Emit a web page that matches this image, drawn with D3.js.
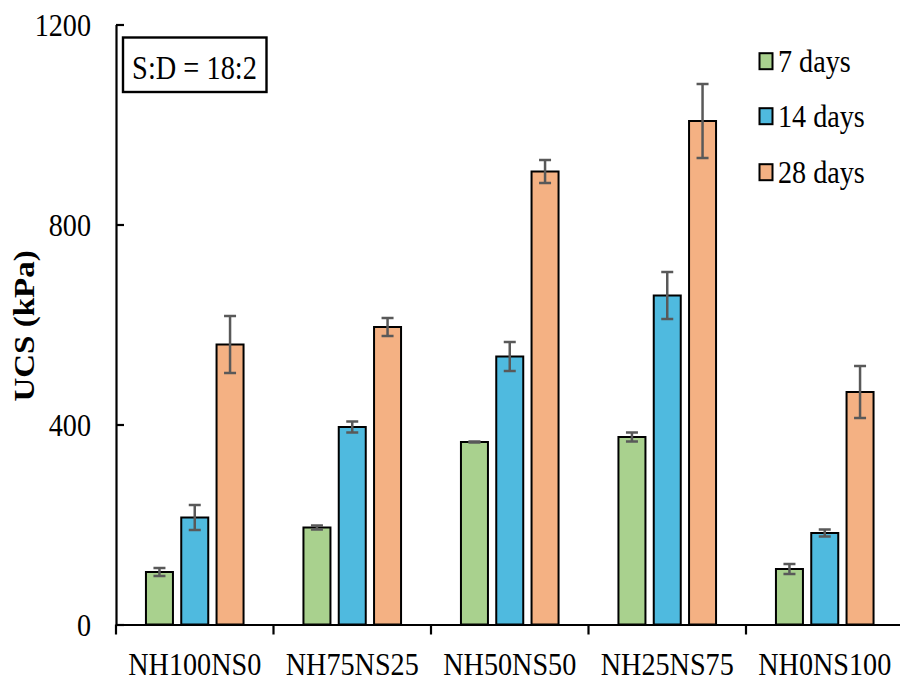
<!DOCTYPE html>
<html><head><meta charset="utf-8">
<script src="https://cdn.jsdelivr.net/npm/d3@7"></script>
<style>body{margin:0;background:#fff}svg{display:block}
svg text{font-family:"Liberation Serif","Tinos","Times New Roman",Times,"DejaVu Serif",serif;fill:#000}</style>
</head><body>
<svg id="c" width="900" height="684"></svg>
<script>
const categories = ["NH100NS0","NH75NS25","NH50NS50","NH25NS75","NH0NS100"];
const seriesNames = ["7 days","14 days","28 days"];
const days7  = [105, 194, 365, 375, 111];
const days14 = [214, 395, 536, 658, 183];
const days28 = [560, 595, 906, 1007, 465];
const err7  = [8, 4, 1, 9, 10];
const err14 = [25, 11, 29, 47, 7];
const err28 = [57, 18, 23, 74, 52];
const yTicks = [0, 400, 800, 1200];
const colors = ["#A9D18E","#4FBADF","#F4B183"];

(function(){
const values = [days7, days14, days28];
const errs = [err7, err14, err28];
const svg = d3.select("#c");
const sx = 0.88;
const pLeft = 116, pBottom = 624.5, pTop = 24.5, band = 157.5;
const x = d3.scaleBand().domain(categories).range([pLeft, pLeft + band*categories.length]).paddingInner(0).paddingOuter(0);
const y = d3.scaleLinear().domain([0,1200]).range([pBottom, pTop]);
const bw = 27, step = 35.3;

// bars
seriesNames.forEach((s, si) => {
  const g = svg.append("g");
  categories.forEach((c, ci) => {
    const cx = x(c) + x.bandwidth()/2 + (si-1)*step;
    g.append("rect").attr("x", cx - bw/2).attr("y", y(values[si][ci]))
      .attr("width", bw).attr("height", y(0) - y(values[si][ci]))
      .attr("fill", colors[si]).attr("stroke", "#000").attr("stroke-width", 2);
  });
});
// error bars
seriesNames.forEach((s, si) => {
  categories.forEach((c, ci) => {
    const cx = x(c) + x.bandwidth()/2 + (si-1)*step;
    const v = values[si][ci], e = errs[si][ci];
    const g = svg.append("g").attr("stroke", "#595959").attr("stroke-width", 2.5);
    g.append("line").attr("x1", cx).attr("x2", cx).attr("y1", y(v+e)).attr("y2", y(v-e));
    g.append("line").attr("x1", cx-6).attr("x2", cx+6).attr("y1", y(v+e)).attr("y2", y(v+e));
    g.append("line").attr("x1", cx-6).attr("x2", cx+6).attr("y1", y(v-e)).attr("y2", y(v-e));
  });
});

// y axis
const ya = svg.append("g").attr("transform", `translate(${pLeft},0)`)
  .call(d3.axisLeft(y).tickValues(yTicks).tickSize(-8).tickSizeOuter(0).tickFormat(d3.format("d")));
ya.attr("font-family", null);
ya.select(".domain").attr("stroke", "#000").attr("stroke-width", 2.2);
ya.selectAll(".tick line").attr("stroke", "#000").attr("stroke-width", 2.2);
ya.selectAll("text").attr("x", 0).attr("dy", null).attr("y", 11)
  .attr("transform", `translate(-25,0) scale(${sx},1)`)
  .style("font-size", "32px");

// x axis
const xa = svg.append("g").attr("transform", `translate(0,${pBottom})`)
  .call(d3.axisBottom(x).tickSize(0));
xa.attr("font-family", null);
xa.select(".domain").attr("stroke", "#000").attr("stroke-width", 2.2);
xa.selectAll("text").attr("dy", null).attr("y", 50.5)
  .attr("transform", `scale(${sx},1)`).style("font-size", "32px");
const bounds = categories.map(c => x(c)).concat([x(categories[categories.length-1]) + x.bandwidth()]);
svg.append("g").selectAll("line").data(bounds).join("line")
  .attr("x1", d => d).attr("x2", d => d).attr("y1", pBottom).attr("y2", pBottom + 10)
  .attr("stroke", "#000").attr("stroke-width", 2.2);

// y label
svg.append("text").attr("transform", `translate(34,326) rotate(-90) scale(1,${sx})`)
  .attr("text-anchor", "middle").attr("font-weight", "bold")
  .style("font-size", "33px").text("UCS (kPa)");

// annotation box
svg.append("rect").attr("x", 123).attr("y", 37.5).attr("width", 143.5).attr("height", 54.5)
  .attr("fill", "#fff").attr("stroke", "#000").attr("stroke-width", 2.4);
svg.append("text").attr("transform", `translate(194.5,78.5) scale(0.86,1)`).attr("text-anchor", "middle")
  .style("font-size", "33px").text("S:D = 18:2");

// legend
const baselines = [71.7, 126.7, 182.7];
seriesNames.forEach((s, i) => {
  const ly = baselines[i];
  svg.append("rect").attr("x", 759.5).attr("y", ly - 18.5).attr("width", 13).attr("height", 16)
    .attr("fill", colors[i]).attr("stroke", "#000").attr("stroke-width", 2);
  svg.append("text").attr("transform", `translate(778,${ly}) scale(${sx},1)`)
    .style("font-size", "32px").text(s);
});
})();
</script>
</body></html>
